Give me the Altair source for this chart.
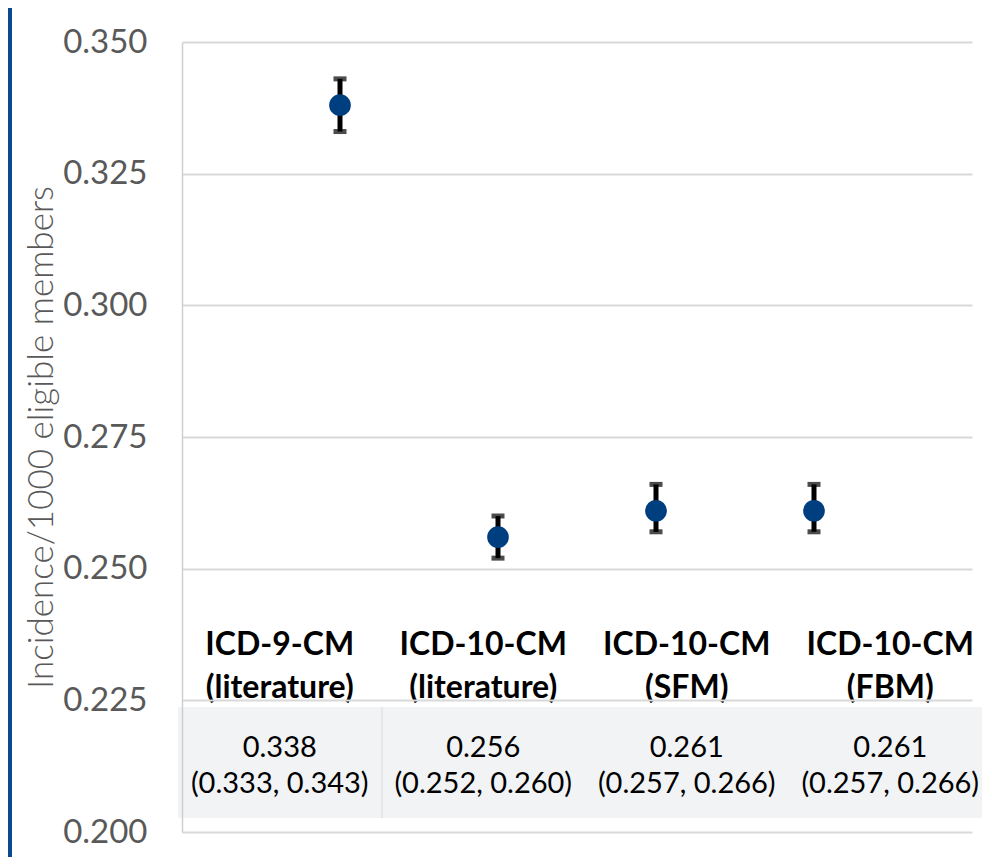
import altair as alt
import pandas as pd

# ---- data ----
categories = ["ICD-9-CM (literature)", "ICD-10-CM (literature)", "ICD-10-CM (SFM)", "ICD-10-CM (FBM)"]
label_line1 = ["ICD-9-CM", "ICD-10-CM", "ICD-10-CM", "ICD-10-CM"]
label_line2 = ["(literature)", "(literature)", "(SFM)", "(FBM)"]
estimates = [0.338, 0.256, 0.261, 0.261]
lower = [0.333, 0.252, 0.257, 0.257]
upper = [0.343, 0.260, 0.266, 0.266]
y_ticks = [0.200, 0.225, 0.250, 0.275, 0.300, 0.325, 0.350]

df = pd.DataFrame({
    "cat": categories,
    "label": [a + "\n" + b for a, b in zip(label_line1, label_line2)],
    "est": estimates,
    "lo": lower,
    "hi": upper,
})
df["table"] = [f"{e:.3f}\n({l:.3f}, {u:.3f})" for e, l, u in zip(estimates, lower, upper)]

NAVY = "#003f7f"
FONT = "Lato"

yscale = alt.Scale(domain=[0.2, 0.35], nice=False, zero=False)
yaxis = alt.Axis(values=y_ticks, format=".3f", title="Incidence/1000 eligible members",
                 labelFont=FONT, labelFontSize=33, labelColor="#595959", labelPadding=35,
                 ticks=False, domain=True, domainColor="#cfcfcf", domainWidth=1.5,
                 grid=True, gridColor="#d9d9d9", gridWidth=2,
                 titleFont=FONT, titleFontSize=35, titleFontWeight=300, titleColor="#595959",
                 titleAngle=270, titleX=-141, titleY=395, titleAlign="center",
                 titleBaseline="middle", zindex=1)

pt_x = alt.X("cat:N", sort=categories, scale=alt.Scale(type="point", padding=1), axis=None)
band_x = alt.X("cat:N", sort=categories, scale=alt.Scale(type="band", range=[-4, 810], paddingInner=0, paddingOuter=0), axis=None)

base = alt.Chart(df)
first = "datum.cat == 'ICD-9-CM (literature)'"

table_bg = base.mark_rect(color="#f2f3f5").encode(
    x=alt.value(-4), x2=alt.value(810), y=alt.value(665), y2=alt.value(776)
).transform_filter(first)

sep = base.mark_rule(color="#e2e3e6", strokeWidth=1.5).encode(
    x=alt.value(200), y=alt.value(665), y2=alt.value(776)
).transform_filter(first)

left_border = base.mark_rule(color="#0b4a8e", strokeWidth=4).encode(
    x=alt.value(-172), y=alt.value(-34), y2=alt.value(815)
).transform_filter(first)

cat_text = base.mark_text(font=FONT, fontSize=32, fontWeight="bold", color="black",
                          lineBreak="\n", lineHeight=43, baseline="alphabetic", align="center").encode(
    x=band_x, y=alt.value(613), text="label:N")

tab_text = base.mark_text(font=FONT, fontSize=29, color="black",
                          lineBreak="\n", lineHeight=36, baseline="alphabetic", align="center").encode(
    x=band_x, y=alt.value(715), text="table:N")

err = base.mark_rule(color="black", strokeWidth=5).encode(
    x=pt_x, y=alt.Y("lo:Q", scale=yscale, axis=yaxis), y2="hi:Q")
cap_lo = base.mark_tick(color="black", size=13, thickness=5, orient="horizontal").encode(
    x=pt_x, y=alt.Y("lo:Q", scale=yscale))
cap_hi = base.mark_tick(color="black", size=13, thickness=5, orient="horizontal").encode(
    x=pt_x, y=alt.Y("hi:Q", scale=yscale))
pts = base.mark_point(filled=True, opacity=1, color=NAVY, size=470, shape="circle").encode(
    x=pt_x, y=alt.Y("est:Q", scale=yscale))

points_layer = alt.layer(err, cap_lo, cap_hi, pts)
text_layer = alt.layer(table_bg, sep, left_border, cat_text, tab_text)

chart = alt.layer(text_layer, points_layer).resolve_scale(x="independent").properties(
    width=790, height=790,
    autosize=alt.AutoSizeParams(type="none"),
    padding={"left": 174, "top": 34, "right": 10, "bottom": 25},
    background="white",
).configure_view(stroke=None)

chart.save("out.html", embed_options={"renderer": "svg", "actions": False})
